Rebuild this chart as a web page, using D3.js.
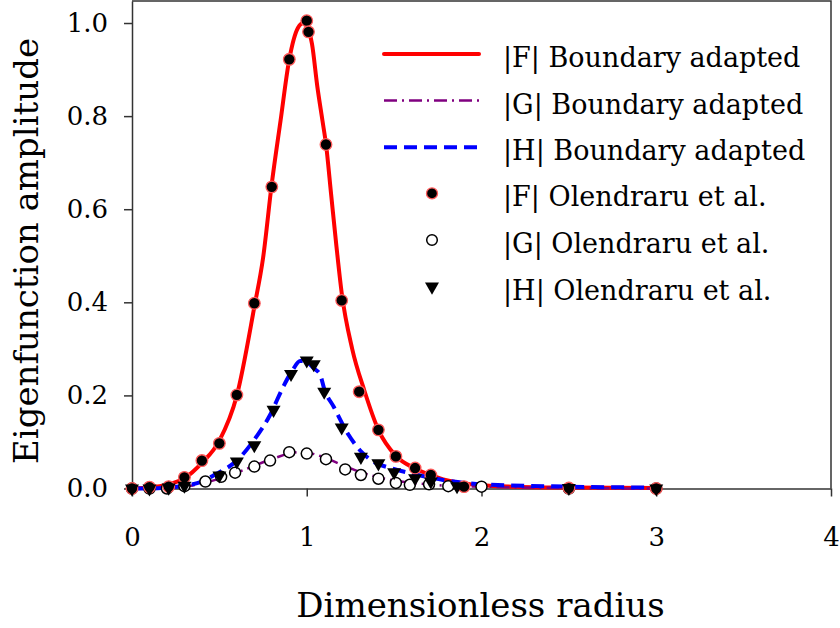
<!DOCTYPE html>
<html lang="en">
<head>
<meta charset="UTF-8">
<title>Eigenfunction amplitude</title>
<style>
  body { margin: 0; background: #fff; }
  svg { display: block; }
  text { font-family: "DejaVu Serif", serif; fill: #000; }
  .axis path, .axis line { stroke: #333; stroke-width: 1.5; }
  .axis text { font-size: 26px; font-family: "DejaVu Serif", serif; }
</style>
</head>
<body>
<svg id="chart" width="840" height="628"></svg>
<script src="https://d3js.org/d3.v7.min.js"></script>
<script>
// boundary adapted curves, [radius, amplitude]
const curveF = [[0,0],[0.1,0.002],[0.2,0.008],[0.3,0.022],[0.4,0.055],[0.5,0.103],[0.6,0.2],[0.7,0.39],
  [0.75,0.495],[0.8,0.655],[0.85,0.79],[0.9,0.922],[0.95,0.99],[0.98,1.0],[1.0,0.993],[1.03,0.955],
  [1.06,0.865],[1.09,0.79],[1.11,0.74],[1.14,0.63],[1.17,0.52],[1.2,0.42],[1.26,0.3],[1.33,0.21],
  [1.41,0.126],[1.51,0.07],[1.62,0.043],[1.71,0.029],[1.8,0.018],[1.9,0.011],[2.0,0.007],[2.2,0.004],
  [2.5,0.002],[3.0,0.001]];
const curveG = [[0,0],[0.1,0],[0.2,0.001],[0.3,0.004],[0.4,0.011],[0.5,0.021],[0.6,0.034],[0.7,0.049],
  [0.8,0.063],[0.9,0.075],[0.95,0.078],[1.0,0.077],[1.1,0.067],[1.2,0.051],[1.3,0.036],[1.4,0.025],
  [1.5,0.017],[1.6,0.012],[1.7,0.009],[1.8,0.006],[2.0,0.004],[2.5,0.001],[3.0,0]];
const curveH = [[0,0],[0.1,0],[0.2,0.002],[0.3,0.006],[0.4,0.015],[0.475,0.03],[0.6,0.06],[0.7,0.105],
  [0.79,0.158],[0.866,0.219],[0.92,0.255],[0.962,0.274],[1.0,0.272],[1.04,0.258],[1.076,0.245],
  [1.1,0.214],[1.155,0.175],[1.24,0.115],[1.31,0.08],[1.4,0.054],[1.46,0.046],[1.59,0.033],[1.7,0.024],
  [1.8,0.017],[1.9,0.012],[2.0,0.009],[2.5,0.004],[3.0,0.002]];

// Olendraru et al. points
const radiusF = [0,0.1,0.21,0.3,0.4,0.5,0.6,0.7,0.8,0.9,1.0,1.01,1.11,1.2,1.3,1.41,1.51,1.62,1.71,1.9,2.5,3.0];
const ampF    = [0,0.003,0.004,0.024,0.06,0.097,0.201,0.398,0.648,0.922,1.005,0.981,0.739,0.404,0.208,0.126,0.069,0.044,0.029,0.004,0.001,0];
const radiusG = [0,0.1,0.2,0.3,0.42,0.51,0.59,0.7,0.79,0.9,1.0,1.11,1.22,1.31,1.41,1.51,1.59,1.7,1.81,2.0,2.5,3.0];
const ampG    = [0,0,0,0.005,0.015,0.025,0.034,0.047,0.06,0.078,0.075,0.063,0.041,0.029,0.021,0.012,0.008,0.009,0.005,0.004,0,0];
const radiusH = [0,0.1,0.21,0.3,0.5,0.6,0.7,0.81,0.91,1.0,1.04,1.1,1.2,1.31,1.41,1.5,1.62,1.71,1.86,2.5,3.0];
const ampH    = [0,0,0.002,0.006,0.028,0.058,0.093,0.169,0.246,0.275,0.267,0.208,0.131,0.068,0.054,0.035,0.022,0.015,0.005,0.001,0];

const xTicks = [0, 1, 2, 3, 4];
const yTicks = [0, 0.2, 0.4, 0.6, 0.8, 1.0];
const legendLabels = ["|F| Boundary adapted", "|G| Boundary adapted", "|H| Boundary adapted",
  "|F| Olendraru et al.", "|G| Olendraru et al.", "|H| Olendraru et al."];

const svg = d3.select("#chart");
const plotLeft = 132, plotRight = 831, plotTop = 1, plotBottom = 488.5;

const x = d3.scaleLinear().domain([0, 4]).range([plotLeft, plotRight]);
const y = d3.scaleLinear().domain([0, 1.0473]).range([plotBottom, plotTop]);

// frame (top and right)
svg.append("path")
  .attr("d", `M${plotLeft},${plotTop}H${plotRight}V${plotBottom}`)
  .attr("fill", "none").attr("stroke", "#333").attr("stroke-width", 1.5);

svg.append("g").attr("class", "axis")
  .attr("transform", `translate(0,${plotBottom})`)
  .call(d3.axisBottom(x).tickValues(xTicks).tickFormat(d3.format("d"))
    .tickSize(8).tickSizeOuter(0).tickPadding(31));

svg.append("g").attr("class", "axis")
  .attr("transform", `translate(${plotLeft},0)`)
  .call(d3.axisLeft(y).tickValues(yTicks).tickFormat(d3.format(".1f"))
    .tickSize(8).tickSizeOuter(0).tickPadding(16));

svg.selectAll(".axis text").attr("fill", "#000");

// axis titles
svg.append("text")
  .attr("x", (plotLeft + plotRight) / 2 - 1).attr("y", 617)
  .attr("text-anchor", "middle").style("font-size", "34px")
  .text("Dimensionless radius");
svg.append("text")
  .attr("transform", "translate(38,251) rotate(-90)")
  .attr("text-anchor", "middle").style("font-size", "34px")
  .text("Eigenfunction amplitude");

const line = d3.line().x(d => x(d[0])).y(d => y(d[1])).curve(d3.curveMonotoneX);

const styles = [
  { color: "#ff0000", width: 4, dash: null },
  { color: "#800080", width: 2.5, dash: "13,5,2,5" },
  { color: "#0000ff", width: 4, dash: "13,7" }
];

[curveF, curveG, curveH].forEach((c, i) => {
  svg.append("path")
    .datum(c)
    .attr("d", line)
    .attr("fill", "none")
    .attr("stroke", styles[i].color)
    .attr("stroke-width", styles[i].width)
    .attr("stroke-dasharray", styles[i].dash);
});

const zip = (a, b) => a.map((r, i) => [r, b[i]]);
const tri = d3.symbol().type(d3.symbolTriangle).size(85);

// markers
svg.append("g").selectAll("circle")
  .data(zip(radiusG, ampG)).join("circle")
  .attr("cx", d => x(d[0])).attr("cy", d => y(d[1])).attr("r", 5.5)
  .attr("fill", "#fff").attr("stroke", "#000").attr("stroke-width", 1.5);

svg.append("g").selectAll("circle")
  .data(zip(radiusF, ampF)).join("circle")
  .attr("cx", d => x(d[0])).attr("cy", d => y(d[1])).attr("r", 5.8)
  .attr("fill", "#000").attr("stroke", "#ff5a5a").attr("stroke-width", 1.3);

svg.append("g").selectAll("path")
  .data(zip(radiusH, ampH)).join("path")
  .attr("d", tri)
  .attr("transform", d => `translate(${x(d[0])},${y(d[1])}) rotate(180)`)
  .attr("fill", "#000");

// legend
const legendY = [54, 100.6, 147.2, 193.4, 240, 286.6];
const lg = svg.append("g");
legendLabels.forEach((label, i) => {
  const yy = legendY[i];
  if (i < 3) {
    lg.append("line")
      .attr("x1", 384).attr("x2", 479).attr("y1", yy).attr("y2", yy)
      .attr("stroke", styles[i].color).attr("stroke-width", styles[i].width)
      .attr("stroke-dasharray", styles[i].dash)
      .attr("stroke-linecap", i === 0 ? "round" : "butt");
  } else if (i === 3) {
    lg.append("circle").attr("cx", 432).attr("cy", yy).attr("r", 5.5)
      .attr("fill", "#000").attr("stroke", "#ff5a5a").attr("stroke-width", 1.3);
  } else if (i === 4) {
    lg.append("circle").attr("cx", 432).attr("cy", yy).attr("r", 5.3)
      .attr("fill", "#fff").attr("stroke", "#000").attr("stroke-width", 1.5);
  } else {
    lg.append("path").attr("d", tri)
      .attr("transform", `translate(432,${yy}) rotate(180)`).attr("fill", "#000");
  }
  lg.append("text")
    .attr("x", 503).attr("y", yy + 13)
    .style("font-size", "27px")
    .text(label);
});
</script>
</body>
</html>
